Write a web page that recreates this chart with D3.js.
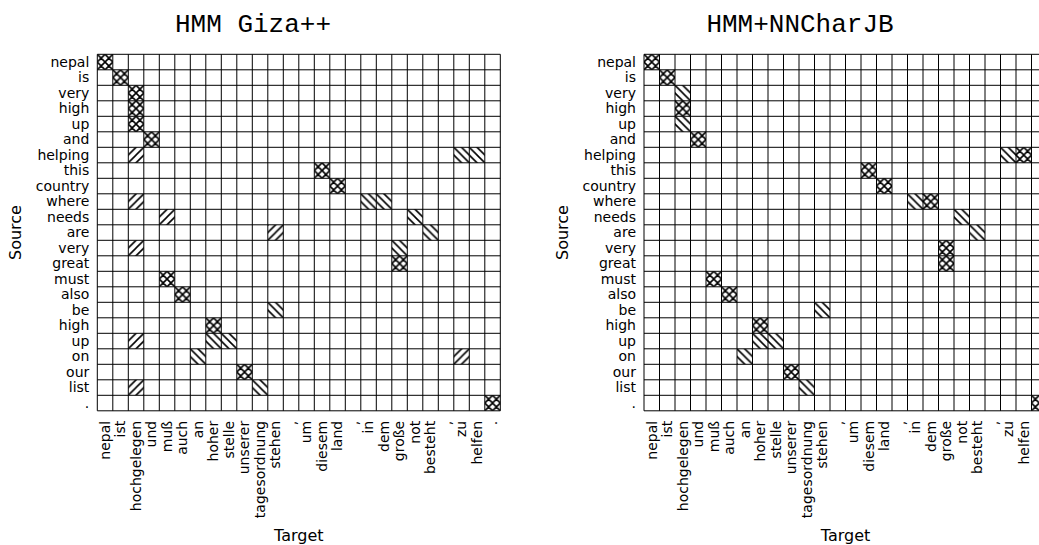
<!DOCTYPE html>
<html>
<head>
<meta charset="utf-8">
<script src="https://cdn.jsdelivr.net/npm/d3@7"></script>
<style>
  body { margin: 0; background: #fff; }
  svg { display: block; }
</style>
</head>
<body>
<svg id="chart"></svg>
<script>
// source sentence (rows) and target sentence (columns)
const sourceWords = ["nepal", "is", "very", "high", "up", "and", "helping", "this", "country", "where", "needs", "are",
    "very", "great", "must", "also", "be", "high", "up", "on", "our", "list", "."];
const targetWords = ["nepal", "ist", "hochgelegen", "und", "muß", "auch", "an", "hoher", "stelle", "unserer",
    "tagesordnung", "stehen", ",", "um", "diesem", "land", ",", "in", "dem", "große", "not", "besteht", ",", "zu", "helfen", "."];

const panelTitles = ["HMM Giza++", "HMM+NNCharJB"];

// alignment cells: [source index, target index, hatch]  x = cross, / = forward, \ = back
const gizaCells = [
    [0, 0, "x"], [1, 1, "x"], [2, 2, "x"], [3, 2, "x"], [4, 2, "x"], [5, 3, "x"],
    [6, 2, "/"], [6, 23, "\\"], [6, 24, "\\"], [7, 14, "x"], [8, 15, "x"],
    [9, 2, "/"], [9, 17, "\\"], [9, 18, "\\"], [10, 4, "/"], [10, 20, "\\"],
    [11, 11, "/"], [11, 21, "\\"], [12, 2, "/"], [12, 19, "\\"], [13, 19, "x"],
    [14, 4, "x"], [15, 5, "x"], [16, 11, "\\"], [17, 7, "x"],
    [18, 2, "/"], [18, 7, "\\"], [18, 8, "\\"], [19, 6, "\\"], [19, 23, "/"],
    [20, 9, "x"], [21, 2, "/"], [21, 10, "\\"], [22, 25, "x"]
];
const charCells = [
    [0, 0, "x"], [1, 1, "x"], [2, 2, "\\"], [3, 2, "x"], [4, 2, "\\"], [5, 3, "x"],
    [6, 23, "\\"], [6, 24, "x"], [7, 14, "x"], [8, 15, "x"],
    [9, 17, "\\"], [9, 18, "x"], [10, 20, "\\"], [11, 21, "\\"],
    [12, 19, "x"], [13, 19, "x"], [14, 4, "x"], [15, 5, "x"], [16, 11, "\\"], [17, 7, "x"],
    [18, 7, "\\"], [18, 8, "\\"], [19, 6, "\\"], [20, 9, "x"], [21, 10, "\\"], [22, 25, "x"]
];

const width = 1039, height = 545;
const cell = 15.5;
const gridTop = 54.3;
const panels = [
    {x0: 97.3, title: panelTitles[0], cells: gizaCells, titleX: 253, sourceX: 21},
    {x0: 644, title: panelTitles[1], cells: charCells, titleX: 800, sourceX: 568}
];

const svg = d3.select("#chart").attr("width", width).attr("height", height);

// hatch patterns
const hp = cell / 2;
const defs = svg.append("defs");
const hatchPaths = {
    "/": `M0,${hp} L${hp},0 M${-hp / 2},${hp / 2} L${hp / 2},${-hp / 2} M${hp / 2},${hp * 1.5} L${hp * 1.5},${hp / 2}`,
    "\\": `M0,0 L${hp},${hp} M${-hp / 2},${hp / 2} L${hp / 2},${hp * 1.5} M${hp / 2},${-hp / 2} L${hp * 1.5},${hp / 2}`
};
hatchPaths["x"] = hatchPaths["/"] + " " + hatchPaths["\\"];
const hatchId = {"x": "hatch-cross", "/": "hatch-fwd", "\\": "hatch-back"};

panels.forEach((p, pi) => {
    Object.keys(hatchPaths).forEach(k => {
        let pat = defs.append("pattern")
            .attr("id", hatchId[k] + pi)
            .attr("patternUnits", "userSpaceOnUse")
            .attr("x", p.x0).attr("y", gridTop)
            .attr("width", hp).attr("height", hp);
        pat.append("rect").attr("width", hp).attr("height", hp).attr("fill", "white");
        pat.append("path").attr("d", hatchPaths[k])
            .attr("stroke", "black").attr("stroke-width", 1.6).attr("fill", "none");
    });
});

panels.forEach((p, pi) => {
    let x = d3.scaleBand().domain(d3.range(targetWords.length))
        .range([p.x0, p.x0 + cell * targetWords.length]);
    let y = d3.scaleBand().domain(d3.range(sourceWords.length))
        .range([gridTop, gridTop + cell * sourceWords.length]);
    let g = svg.append("g");

    // hatched cells
    g.append("g").selectAll("rect")
        .data(p.cells)
        .join("rect")
        .attr("x", d => x(d[1]))
        .attr("y", d => y(d[0]))
        .attr("width", x.bandwidth())
        .attr("height", y.bandwidth())
        .attr("fill", d => `url(#${hatchId[d[2]]}${pi})`);

    // grid lines
    let xEdges = x.domain().map(d => x(d)).concat([x.range()[1]]);
    let yEdges = y.domain().map(d => y(d)).concat([y.range()[1]]);
    g.append("g").selectAll("line")
        .data(xEdges)
        .join("line")
        .attr("x1", d => d).attr("x2", d => d)
        .attr("y1", y.range()[0]).attr("y2", y.range()[1])
        .attr("stroke", "black").attr("stroke-width", 1);
    g.append("g").selectAll("line")
        .data(yEdges)
        .join("line")
        .attr("y1", d => d).attr("y2", d => d)
        .attr("x1", x.range()[0]).attr("x2", x.range()[1])
        .attr("stroke", "black").attr("stroke-width", 1);

    // source labels
    let yAxis = g.append("g")
        .attr("transform", `translate(${p.x0},0)`)
        .call(d3.axisLeft(y).tickSize(0).tickPadding(8).tickFormat(i => sourceWords[i]));
    yAxis.select(".domain").remove();
    yAxis.selectAll("text")
        .style("font", "14px 'DejaVu Sans'")
        .attr("fill", "black");

    // target labels
    let xAxis = g.append("g")
        .attr("transform", `translate(0,${y.range()[1]})`)
        .call(d3.axisBottom(x).tickSize(0).tickFormat(i => targetWords[i]));
    xAxis.select(".domain").remove();
    xAxis.selectAll("text")
        .style("font", "14px 'DejaVu Sans'")
        .attr("fill", "black")
        .attr("transform", "rotate(-90)")
        .attr("x", -10)
        .attr("y", 0)
        .attr("dy", "0.35em")
        .style("text-anchor", "end");

    // title
    svg.append("text")
        .attr("x", p.titleX)
        .attr("y", 31.5)
        .attr("text-anchor", "middle")
        .style("font", "26px 'Liberation Mono', 'Courier New', monospace")
        .text(p.title);

    // axis titles
    svg.append("text")
        .attr("x", (x.range()[0] + x.range()[1]) / 2)
        .attr("y", 541)
        .attr("text-anchor", "middle")
        .style("font", "16px 'DejaVu Sans'")
        .text("Target");

    svg.append("text")
        .attr("transform", `translate(${p.sourceX},${(y.range()[0] + y.range()[1]) / 2}) rotate(-90)`)
        .attr("text-anchor", "middle")
        .style("font", "16px 'DejaVu Sans'")
        .text("Source");
});
</script>
</body>
</html>
